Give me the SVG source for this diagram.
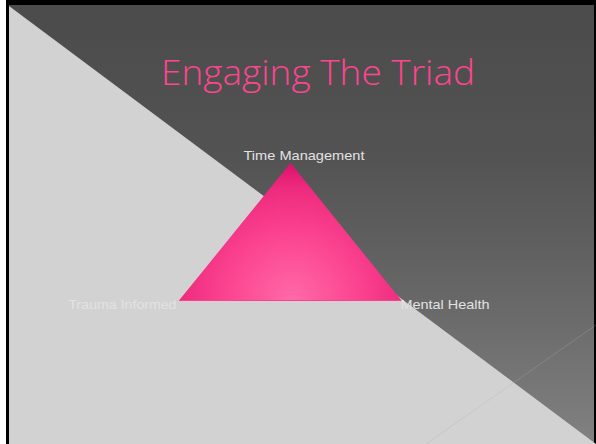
<svg xmlns="http://www.w3.org/2000/svg" width="596" height="444" viewBox="0 0 596 444">
  <defs>
    <linearGradient id="darkBg" x1="0" y1="0" x2="0" y2="1">
      <stop offset="0" stop-color="#4b4b4b"/>
      <stop offset="0.35" stop-color="#535353"/>
      <stop offset="0.65" stop-color="#666666"/>
      <stop offset="1" stop-color="#818181"/>
    </linearGradient>
    <radialGradient id="triFill" gradientUnits="userSpaceOnUse" cx="292" cy="300" r="140" fx="292" fy="300">
      <stop offset="0" stop-color="#ff6aa8"/>
      <stop offset="0.45" stop-color="#fc4591"/>
      <stop offset="0.8" stop-color="#ee2b7e"/>
      <stop offset="1" stop-color="#d80f68"/>
    </radialGradient>
    <style>
      .label { font-family: "Liberation Sans", Arial, sans-serif; font-size: 13px; fill: #e2e2e2; }
      .title { font-family: "Open Sans", "Liberation Sans", sans-serif; font-weight: 300; font-size: 35px; fill: #ff4490; }
    </style>
  </defs>

  <!-- slide background -->
  <rect x="0" y="0" width="596" height="444" fill="#ffffff"/>
  <rect x="6" y="0" width="590" height="444" fill="#000000"/>
  <rect x="9" y="5" width="585" height="439" fill="url(#darkBg)"/>
  <!-- light diagonal half -->
  <polygon points="9,6 596,444 9,444" fill="#d2d2d2"/>
  <!-- faint accent line -->
  <line x1="426" y1="444" x2="596" y2="325" stroke="#b0b0b0" stroke-opacity="0.3" stroke-width="1"/>

  <!-- title -->
  <text class="title" x="318" y="85" text-anchor="middle" textLength="314" lengthAdjust="spacingAndGlyphs">Engaging The Triad</text>

  <!-- triad shape -->
  <g id="triad">
    <polygon points="290.5,163 179,300.5 401.5,300.5" fill="url(#triFill)"/>
    <line x1="179" y1="300.5" x2="401.5" y2="300.5" stroke="#ff3f8c" stroke-width="1"/>
  </g>

  <g id="node-time">
    <text class="label" x="304" y="160" text-anchor="middle" textLength="121" lengthAdjust="spacingAndGlyphs">Time Management</text>
  </g>
  <g id="node-trauma">
    <text class="label" x="68.5" y="309" textLength="108" lengthAdjust="spacingAndGlyphs">Trauma Informed</text>
  </g>
  <g id="node-mental">
    <text class="label" x="400.5" y="309" textLength="89" lengthAdjust="spacingAndGlyphs">Mental Health</text>
  </g>
</svg>
